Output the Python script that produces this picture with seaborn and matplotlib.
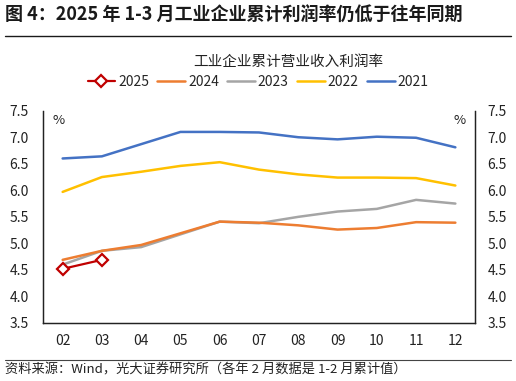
import numpy as np
import pandas as pd
import matplotlib
matplotlib.use("Agg")
import matplotlib.pyplot as plt
from matplotlib.lines import Line2D
import seaborn as sns

# Data (cumulative operating-revenue profit margin, %)
months = ["02", "03", "04", "05", "06", "07", "08", "09", "10", "11", "12"]
y2025 = [4.52, 4.69]
y2024 = [4.69, 4.86, 4.97, 5.19, 5.41, 5.39, 5.34, 5.26, 5.29, 5.40, 5.39]
y2023 = [4.60, 4.86, 4.93, 5.17, 5.41, 5.38, 5.50, 5.60, 5.65, 5.82, 5.75]
y2022 = [5.97, 6.25, 6.35, 6.46, 6.53, 6.39, 6.30, 6.24, 6.24, 6.23, 6.09]
y2021 = [6.60, 6.64, 6.87, 7.10, 7.10, 7.09, 7.00, 6.96, 7.01, 6.99, 6.81]

years = ["2025", "2024", "2023", "2022", "2021"]
series = {"2025": y2025, "2024": y2024, "2023": y2023, "2022": y2022, "2021": y2021}
colors = {"2025": "#C00000", "2024": "#ED7D31", "2023": "#A5A5A5",
          "2022": "#FFC000", "2021": "#4472C4"}

sns.set_theme(style="white")
plt.rcParams["font.family"] = ["Noto Sans CJK SC", "DejaVu Sans"]
plt.rcParams["axes.unicode_minus"] = False

fig = plt.figure(figsize=(5.16, 3.81), dpi=100)
ax = fig.add_axes([43 / 516, 1 - 323 / 381, 432 / 516, 212.3 / 381])

# draw older years first so 2025 sits on top
for yr in years[::-1]:
    vals = series[yr]
    df = pd.DataFrame({"x": np.arange(len(vals)), "y": vals})
    if yr == "2025":
        sns.lineplot(data=df, x="x", y="y", ax=ax, color=colors[yr], lw=1.6,
                     marker="D", markersize=6, markerfacecolor="white",
                     markeredgecolor=colors[yr], markeredgewidth=1.6, zorder=5)
    else:
        sns.lineplot(data=df, x="x", y="y", ax=ax, color=colors[yr], lw=1.8)

ax.set_xlim(-0.5, len(months) - 0.5)
ax.set_ylim(3.5, 7.5)
ax.set_xlabel("")
ax.set_ylabel("")
ax.set_xticks(np.arange(len(months)))
ax.set_xticklabels(months)
ax.set_xticks(np.arange(0.5, len(months) - 1), minor=True)
ax.tick_params(axis="x", which="major", length=0, pad=8, labelsize=10, colors="#222222")
ax.tick_params(axis="x", which="minor", direction="in", length=3, width=0.8, color="#222222")
yt = np.arange(3.5, 7.51, 0.5)
ax.set_yticks(yt)
ax.set_yticklabels([f"{v:.1f}" for v in yt])
ax.tick_params(axis="y", length=0, pad=10, labelsize=10, colors="#222222")

ax2 = ax.twinx()
ax2.set_ylim(3.5, 7.5)
ax2.set_yticks(yt)
ax2.set_yticklabels([f"{v:.1f}" for v in yt])
ax2.tick_params(axis="y", length=0, pad=9, labelsize=10, colors="#222222")

for a in (ax, ax2):
    a.spines["top"].set_visible(False)
    for s in ("left", "right", "bottom"):
        a.spines[s].set_color("#222222")
        a.spines[s].set_linewidth(0.9)
    a.grid(False)

ax.text(0.022, 0.985, "%", transform=ax.transAxes, fontsize=9.5, va="top", ha="left", color="#222222")
ax.text(0.978, 0.985, "%", transform=ax.transAxes, fontsize=9.5, va="top", ha="right", color="#222222")

# legend
handles = []
for yr in years:
    if yr == "2025":
        handles.append(Line2D([], [], color=colors[yr], lw=1.6, marker="D", markersize=6,
                              markerfacecolor="white", markeredgecolor=colors[yr],
                              markeredgewidth=1.6))
    else:
        handles.append(Line2D([], [], color=colors[yr], lw=1.8))
fig.legend(handles, years, loc="center", bbox_to_anchor=(258 / 516, 1 - 82 / 381), ncol=5,
           frameon=False, fontsize=10, handlelength=2.0, handletextpad=0.2,
           columnspacing=0.6)

# titles and source
fig.text(5 / 516, 1 - 15 / 381, "图 4：2025 年 1-3 月工业企业累计利润率仍低于往年同期",
         fontsize=13, fontweight="bold", ha="left", va="center", color="#1a1a1a")
fig.add_artist(Line2D([5 / 516, 511 / 516], [1 - 36 / 381] * 2, color="#1a1a1a", lw=1.0))
fig.text(288 / 516, 1 - 62 / 381, "工业企业累计营业收入利润率", fontsize=10.5,
         ha="center", va="center", color="#222222")
fig.add_artist(Line2D([5 / 516, 511 / 516], [1 - 360 / 381] * 2, color="#444444", lw=0.8))
fig.text(5 / 516, 1 - 370 / 381, "资料来源：Wind，光大证券研究所（各年 2 月数据是 1-2 月累计值）",
         fontsize=9.5, ha="left", va="center", color="#222222")

fig.savefig("out.png", dpi=100)
